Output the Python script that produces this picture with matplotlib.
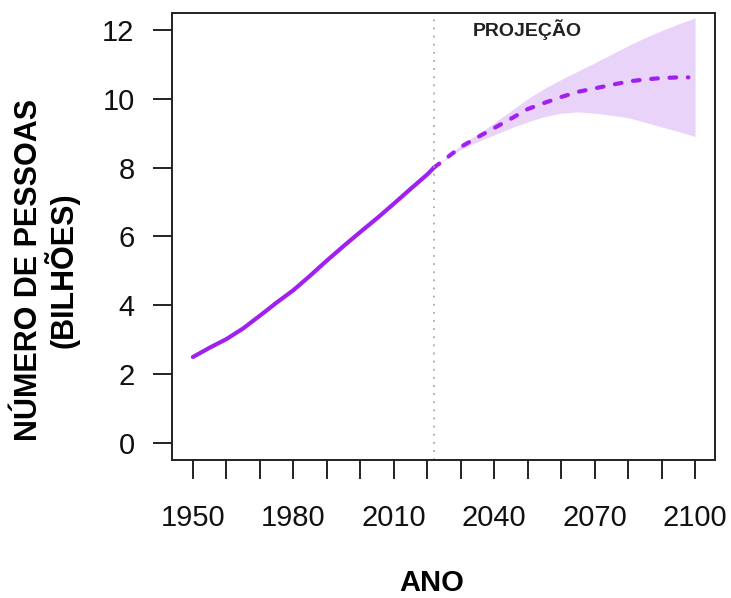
import matplotlib
matplotlib.use("Agg")
import matplotlib.pyplot as plt

plt.rcParams['font.family'] = ['Liberation Sans', 'DejaVu Sans']

# historical population (billions)
hist_years = [1950, 1955, 1960, 1965, 1970, 1975, 1980, 1985, 1990, 1995,
              2000, 2005, 2010, 2015, 2020, 2022]
hist_pop = [2.5, 2.77, 3.02, 3.33, 3.70, 4.08, 4.44, 4.86, 5.30, 5.72,
            6.13, 6.53, 6.95, 7.38, 7.80, 8.0]

# projection with uncertainty band
proj_years = [2022, 2025, 2030, 2035, 2040, 2045, 2050, 2055, 2060, 2065,
              2070, 2075, 2080, 2085, 2090, 2095, 2100]
proj_mid = [8.0, 8.22, 8.6, 8.88, 9.15, 9.42, 9.7, 9.88, 10.05, 10.2,
            10.3, 10.4, 10.5, 10.56, 10.6, 10.62, 10.62]
proj_low = [8.0, 8.2, 8.53, 8.75, 8.95, 9.15, 9.33, 9.48, 9.58, 9.62,
            9.58, 9.52, 9.45, 9.32, 9.18, 9.05, 8.9]
proj_high = [8.0, 8.23, 8.65, 8.97, 9.3, 9.65, 10.0, 10.3, 10.56, 10.8,
             11.04, 11.29, 11.54, 11.77, 11.98, 12.17, 12.35]

x_ticks = list(range(1950, 2101, 10))
x_labels = [str(y) if (y - 1950) % 30 == 0 else '' for y in x_ticks]
y_ticks = [0, 2, 4, 6, 8, 10, 12]

purple = '#A020F0'

fig = plt.figure(figsize=(7.31, 5.98), dpi=100)
ax = fig.add_axes([0.2353, 0.2308, 0.7428, 0.7475])

ax.fill_between(proj_years, proj_low, proj_high, color='#EAD3F9', lw=0)
ax.plot(hist_years, hist_pop, color=purple, lw=3, solid_capstyle='round')
ax.plot(proj_years[:-1] + [2098], proj_mid, color=purple, lw=3,
        dashes=(1.6, 2.8), dash_capstyle='round')
ax.axvline(2022, color='#AAAAAA', lw=1.3, ls=(0, (1, 3.5)))

ax.text(2050, 12.0, 'PROJEÇÃO', fontsize=14, fontweight='bold', color='#222222',
        ha='center', va='center')

ax.set_xlim(1943.75, 2105.95)
ax.set_ylim(-0.49, 12.49)
ax.set_xticks(x_ticks)
ax.set_xticklabels(x_labels)
ax.set_yticks(y_ticks)
ax.tick_params(axis='both', length=14, width=1.4, labelsize=21, color='#222222',
               labelcolor='#111111')
ax.tick_params(axis='x', pad=18)
ax.tick_params(axis='y', pad=13)
for s in ax.spines.values():
    s.set_linewidth(1.4)
    s.set_color('#222222')

ax.set_xlabel('ANO', fontsize=21, fontweight='bold', va='center')
ax.xaxis.set_label_coords(0.479, -0.275)
ax.set_ylabel('NÚMERO DE PESSOAS\n(BILHÕES)', fontsize=22, fontweight='bold',
              linespacing=1.0, va='center')
ax.yaxis.set_label_coords(-0.231, 0.425)

fig.savefig('out.png', dpi=100)
